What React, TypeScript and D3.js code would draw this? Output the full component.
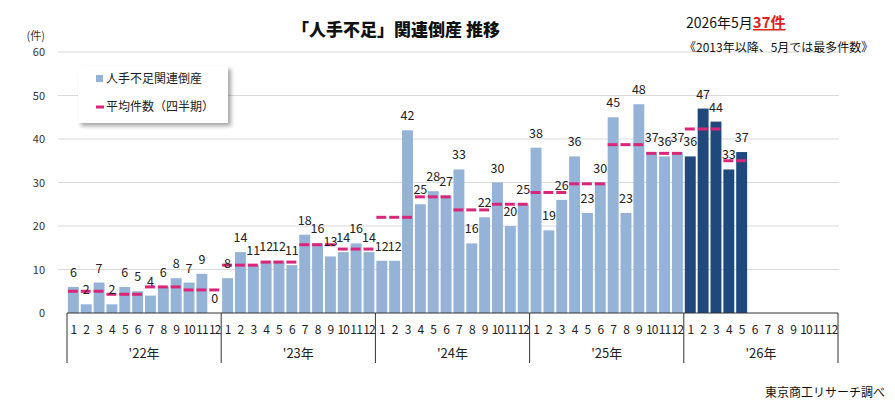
import * as d3 from "d3";

const years = ["'22年", "'23年", "'24年", "'25年", "'26年"];
const monthLabels = ["1", "2", "3", "4", "5", "6", "7", "8", "9", "10", "11", "12"];

// monthly counts, Jan 2022 .. May 2026
const counts: number[] = [
  6, 2, 7, 2, 6, 5, 4, 6, 8, 7, 9, 0,
  8, 14, 11, 12, 12, 11, 18, 16, 13, 14, 16, 14,
  12, 12, 42, 25, 28, 27, 33, 16, 22, 30, 20, 25,
  38, 19, 26, 36, 23, 30, 45, 23, 48, 37, 36, 37,
  36, 47, 44, 33, 37,
];

// quarterly averages (dashed marks)
const quarterAvg: number[] = [
  5, 4.3, 6, 5.3,
  11, 11.7, 15.7, 14.7,
  22, 26.7, 23.7, 25,
  27.7, 29.7, 38.7, 36.7,
  42.3, 35,
];

const yTicks = [0, 10, 20, 30, 40, 50, 60];

const W = 895;
const H = 407;
const margin = { top: 52, left: 67, right: 57, bottom: 94 };
const font = "'Noto Sans CJK JP', 'Noto Sans', sans-serif";

const lightBar = "#95b3d7";
const darkBar = "#1f497d";
const avgColor = "#d9267a";

export default function App() {
  const nMonths = years.length * 12;
  const idx = d3.range(nMonths);
  const x = d3
    .scaleBand<number>()
    .domain(idx)
    .range([margin.left, W - margin.right])
    .paddingInner(0.15)
    .paddingOuter(0.07);
  const y = d3.scaleLinear().domain([0, 60]).range([H - margin.bottom, margin.top]);
  const y0 = y(0);
  const step = x.step();
  const plotL = margin.left;
  const plotR = W - margin.right;
  const yearW = (plotR - plotL) / years.length;
  const bw = x.bandwidth();

  return (
    <div style={{ position: "absolute", left: 0, top: 0 }}>
      <svg width={W} height={H} style={{ fontFamily: font, display: "block", background: "#fff" }}>
        <defs>
          <filter id="shadow" x="-10%" y="-10%" width="130%" height="140%">
            <feDropShadow dx="3" dy="3" stdDeviation="2" floodColor="#000" floodOpacity="0.35" />
          </filter>
        </defs>

        {/* gridlines */}
        {yTicks.map((t) => (
          <g key={t}>
            {t > 0 && (
              <line x1={58} x2={plotR + 1} y1={y(t)} y2={y(t)} stroke="#d9d9d9" strokeWidth={1} />
            )}
            <text x={45} y={y(t) + 4} textAnchor="end" fontSize={11} fill="#333">
              {t}
            </text>
          </g>
        ))}
        <text x={45} y={40} textAnchor="end" fontSize={11} fill="#333">
          (件)
        </text>

        {/* bars */}
        {counts.map((v, i) => (
          <rect
            key={i}
            x={x(i)}
            y={y(v)}
            width={bw}
            height={y0 - y(v)}
            fill={i >= 48 ? darkBar : lightBar}
          />
        ))}

        {/* quarterly average dashes */}
        {counts.map((_, i) => {
          const q = Math.floor(i / 3);
          const v = quarterAvg[q];
          const cx = (x(i) as number) + bw / 2;
          return (
            <line
              key={"a" + i}
              x1={cx - bw / 2}
              x2={cx + bw / 2 - 1}
              y1={y(v)}
              y2={y(v)}
              stroke={avgColor}
              strokeWidth={3}
            />
          );
        })}

        {/* value labels */}
        {counts.map((v, i) => (
          <text
            key={"l" + i}
            x={(x(i) as number) + bw / 2}
            y={y(v) - 10}
            textAnchor="middle"
            fontSize={12.5}
            fill="#222"
          >
            {v}
          </text>
        ))}

        {/* x axis */}
        <line x1={plotL} x2={plotR} y1={y0} y2={y0} stroke="#333" strokeWidth={1} />
        {d3.range(years.length + 1).map((k) => (
          <line
            key={"s" + k}
            x1={plotL + k * yearW}
            x2={plotL + k * yearW}
            y1={y0}
            y2={y0 + 50}
            stroke="#333"
            strokeWidth={1}
          />
        ))}
        {idx.map((i) => (
          <text
            key={"m" + i}
            x={plotL + (i + 0.5) * step}
            y={y0 + 21}
            textAnchor="middle"
            fontSize={12}
            letterSpacing={-0.8}
            fill="#222"
          >
            {monthLabels[i % 12]}
          </text>
        ))}
        {years.map((yr, k) => (
          <text
            key={yr}
            x={plotL + (k + 0.5) * yearW}
            y={y0 + 45}
            textAnchor="middle"
            fontSize={13}
            fill="#222"
          >
            {yr}
          </text>
        ))}

        {/* title */}
        <text x={396} y={36} textAnchor="middle" fontSize={17} fontWeight={900} fill="#111">
          「人手不足」関連倒産 推移
        </text>

        {/* annotation */}
        <text x={686} y={28} fontSize={14} fill="#111">
          2026年5月
          <tspan fill="#e0201b" fontWeight="bold" fontSize={15} textDecoration="underline">
            37件
          </tspan>
        </text>
        <text x={684} y={52} fontSize={12} fill="#111">
          《2013年以降、5月では最多件数》
        </text>

        {/* legend */}
        <rect x={78} y={66} width={150} height={57} fill="#fff" filter="url(#shadow)" />
        <rect x={96} y={75} width={7} height={7} fill={lightBar} />
        <text x={106} y={83} fontSize={12} fill="#222">
          人手不足関連倒産
        </text>
        <line x1={96} x2={104} y1={107} y2={107} stroke={avgColor} strokeWidth={3} />
        <text x={106} y={111} fontSize={12} fill="#222">
          平均件数（四半期）
        </text>

        {/* source */}
        <text x={885} y={397} textAnchor="end" fontSize={12} fill="#111">
          東京商工リサーチ調べ
        </text>
      </svg>
    </div>
  );
}
